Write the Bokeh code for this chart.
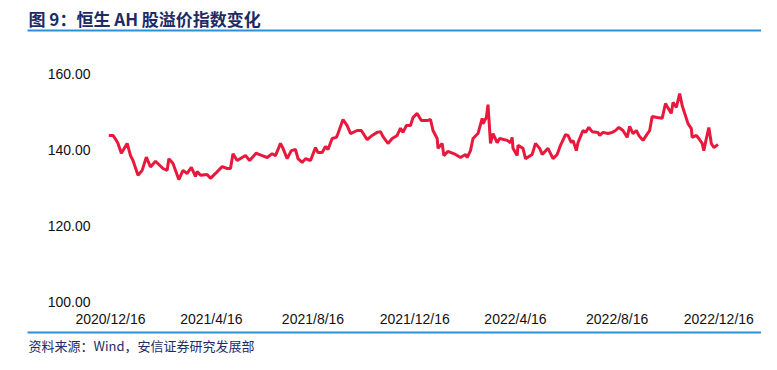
import pandas as pd
from bokeh.plotting import figure
from bokeh.models import Range1d, Label, BoxAnnotation, ColumnDataSource
from bokeh.core.properties import value
from bokeh.embed import file_html
from bokeh.resources import INLINE

# ---- data ----
dates = [
    "2020-12-14", "2020-12-19", "2020-12-23", "2020-12-25", "2020-12-29", "2021-01-05",
    "2021-01-09", "2021-01-12", "2021-01-18", "2021-01-23", "2021-01-28", "2021-02-02",
    "2021-02-08", "2021-02-17", "2021-02-22", "2021-02-24", "2021-03-01", "2021-03-08",
    "2021-03-13", "2021-03-18", "2021-03-23", "2021-03-28", "2021-03-30", "2021-04-03",
    "2021-04-11", "2021-04-15", "2021-04-21", "2021-04-29", "2021-05-05", "2021-05-09",
    "2021-05-12", "2021-05-17", "2021-05-27", "2021-06-01", "2021-06-09", "2021-06-12",
    "2021-06-16", "2021-06-22", "2021-06-28", "2021-07-02", "2021-07-08", "2021-07-11",
    "2021-07-16", "2021-07-21", "2021-07-26", "2021-07-29", "2021-08-03", "2021-08-07",
    "2021-08-13", "2021-08-19", "2021-08-22", "2021-08-27", "2021-08-31", "2021-09-03",
    "2021-09-08", "2021-09-13", "2021-09-15", "2021-09-21", "2021-09-26", "2021-09-30",
    "2021-10-08", "2021-10-13", "2021-10-20", "2021-10-26", "2021-11-01", "2021-11-05",
    "2021-11-08", "2021-11-14", "2021-11-19", "2021-11-25", "2021-11-29", "2021-12-02",
    "2021-12-06", "2021-12-11", "2021-12-14", "2021-12-19", "2021-12-24", "2021-12-31",
    "2022-01-04", "2022-01-07", "2022-01-12", "2022-01-13", "2022-01-18", "2022-01-20",
    "2022-01-25", "2022-02-03", "2022-02-09", "2022-02-15", "2022-02-17", "2022-02-21",
    "2022-02-24", "2022-03-02", "2022-03-07", "2022-03-08", "2022-03-12", "2022-03-14",
    "2022-03-17", "2022-03-20", "2022-03-25", "2022-03-28", "2022-04-06", "2022-04-10",
    "2022-04-12", "2022-04-13", "2022-04-18", "2022-04-19", "2022-04-25", "2022-04-28",
    "2022-05-06", "2022-05-10", "2022-05-15", "2022-05-18", "2022-05-25", "2022-05-31",
    "2022-06-05", "2022-06-09", "2022-06-15", "2022-06-18", "2022-06-22", "2022-06-24",
    "2022-06-28", "2022-06-30", "2022-07-06", "2022-07-09", "2022-07-13", "2022-07-17",
    "2022-07-24", "2022-07-26", "2022-07-30", "2022-08-05", "2022-08-10", "2022-08-14",
    "2022-08-18", "2022-08-23", "2022-08-28", "2022-08-31", "2022-09-04", "2022-09-08",
    "2022-09-11", "2022-09-16", "2022-09-20", "2022-09-24", "2022-09-27", "2022-10-03",
    "2022-10-09", "2022-10-13", "2022-10-15", "2022-10-20", "2022-10-22", "2022-10-26",
    "2022-10-30", "2022-11-02", "2022-11-07", "2022-11-09", "2022-11-13", "2022-11-14",
    "2022-11-19", "2022-11-22", "2022-11-26", "2022-11-28", "2022-12-01", "2022-12-04",
    "2022-12-07", "2022-12-10", "2022-12-15",
]
ah_premium = [
    143.7, 143.7, 142.4, 141.6, 139.0, 141.6,
    138.4, 137.1, 133.2, 134.5, 138.0, 135.4,
    136.9, 135.0, 134.5, 137.6, 136.3, 132.1,
    134.5, 133.7, 135.3, 132.9, 134.2, 133.2,
    133.4, 132.4, 133.7, 135.5, 135.0, 135.0,
    138.9, 137.1, 138.4, 137.1, 139.1, 138.7,
    138.4, 137.9, 138.9, 138.4, 141.6, 140.3,
    137.6, 139.7, 140.0, 137.6, 136.6, 137.6,
    137.1, 140.5, 139.2, 139.2, 140.8, 140.0,
    142.9, 143.2, 144.2, 147.9, 146.3, 144.2,
    145.0, 145.0, 142.6, 143.7, 144.5, 144.7,
    143.4, 141.6, 142.9, 143.7, 145.6, 144.5,
    146.3, 146.3, 148.4, 149.5, 147.6, 147.6,
    147.9, 145.0, 142.9, 140.3, 141.6, 138.4,
    139.5, 138.7, 137.9, 138.7, 137.9, 139.7,
    142.9, 144.2, 148.2, 146.8, 148.4, 151.8,
    141.6, 144.2, 141.8, 142.9, 142.4, 141.8,
    143.2, 140.3, 138.4, 141.1, 140.3, 137.6,
    138.7, 141.6, 140.3, 138.7, 140.3, 137.6,
    138.7, 141.1, 143.9, 143.7, 141.8, 142.4,
    139.7, 141.8, 145.0, 144.5, 145.8, 144.7,
    144.5, 143.7, 144.5, 144.2, 144.5, 145.0,
    145.8, 145.0, 143.2, 146.1, 144.2, 145.0,
    143.7, 142.4, 143.7, 145.0, 148.7, 148.4,
    148.2, 152.1, 151.3, 149.5, 152.4, 151.1,
    154.7, 151.6, 148.2, 146.8, 145.5, 143.2,
    143.7, 142.9, 141.6, 139.7, 142.9, 145.8,
    141.6, 140.5, 141.3,
]
x_tick_dates = ["2020-12-16", "2021-04-16", "2021-08-16", "2021-12-16",
                "2022-04-16", "2022-08-16", "2022-12-16"]
x_tick_labels = ["2020/12/16", "2021/4/16", "2021/8/16", "2021/12/16",
                 "2022/4/16", "2022/8/16", "2022/12/16"]
y_ticks = [100, 120, 140, 160]
y_tick_labels = ["100.00", "120.00", "140.00", "160.00"]

title_text = "图 9：恒生 AH 股溢价指数变化"
source_text = "资料来源：Wind，安信证券研究发展部"

# ---- layout calibration (canvas pixels) ----
W, H = 761, 354
PLOT_LEFT_PX = 110          # where the first x tick sits
DAYS_PER_PX = 1.2
Y_TOP_PX, Y_BOT_PX = 73, 301   # pixel rows of y = 160 and y = 100
Y_MIN, Y_MAX = 100, 160
PX_PER_UNIT = (Y_BOT_PX - Y_TOP_PX) / (Y_MAX - Y_MIN)

D0 = pd.Timestamp(x_tick_dates[0])
x_start = D0 - pd.Timedelta(days=PLOT_LEFT_PX * DAYS_PER_PX)
x_end = D0 + pd.Timedelta(days=(W - PLOT_LEFT_PX) * DAYS_PER_PX)
y_end = Y_MAX + Y_TOP_PX / PX_PER_UNIT
y_start = Y_MIN - (H - Y_BOT_PX) / PX_PER_UNIT

NAVY = "#1c2b66"
RULE = "#2a90d8"
LINE = "#e8193c"

p = figure(width=W, height=H, output_backend="svg", toolbar_location=None,
           x_axis_type="datetime", x_axis_location=None, y_axis_location=None,
           x_range=Range1d(x_start, x_end), y_range=Range1d(y_start, y_end),
           min_border=0, min_border_left=0, min_border_right=0,
           min_border_top=0, min_border_bottom=0)
p.outline_line_color = None
p.grid.visible = False
p.background_fill_color = "white"
p.border_fill_color = "white"

# series
src = ColumnDataSource(dict(date=pd.to_datetime(dates), v=ah_premium))
p.line("date", "v", source=src, line_color=LINE, line_width=3)

# x tick labels (below the y = 100 row)
xlab_y = Y_MIN - 17 / PX_PER_UNIT
xsrc = ColumnDataSource(dict(x=pd.to_datetime(x_tick_dates),
                             y=[xlab_y] * len(x_tick_dates), t=x_tick_labels))
p.text("x", "y", text="t", source=xsrc, text_font=value("Liberation Sans"),
       text_font_size=value("14px"), text_color="#111111",
       text_align="center", text_baseline="middle")

# y tick labels (right-aligned left of the plot)
ylab_x = D0 - pd.Timedelta(days=20 * DAYS_PER_PX)
ysrc = ColumnDataSource(dict(x=[ylab_x] * len(y_ticks), y=y_ticks, t=y_tick_labels))
p.text("x", "y", text="t", source=ysrc, text_font=value("Liberation Sans"),
       text_font_size=value("14px"), text_color="#111111",
       text_align="right", text_baseline="middle")

# header: title and blue rule (screen units from the bottom-left corner)
p.add_layout(Label(x=28, y=H - 18, x_units="screen", y_units="screen",
                   text=title_text, text_font="Noto Sans CJK SC", text_font_style="bold",
                   text_font_size="17px", text_color=NAVY, text_baseline="middle"))
p.add_layout(BoxAnnotation(left=27, right=W, top=H - 29, bottom=H - 31,
                           left_units="screen", right_units="screen",
                           top_units="screen", bottom_units="screen",
                           fill_color=RULE, fill_alpha=1, line_color=None))

# footer: blue rule and source text
p.add_layout(BoxAnnotation(left=27, right=W, top=H - 331, bottom=H - 333,
                           left_units="screen", right_units="screen",
                           top_units="screen", bottom_units="screen",
                           fill_color=RULE, fill_alpha=1, line_color=None))
p.add_layout(Label(x=28, y=H - 335, x_units="screen", y_units="screen",
                   text=source_text, text_font="Noto Sans CJK SC",
                   text_font_size="13px", text_color=NAVY, text_baseline="top"))

open("out.html", "w").write(file_html(p, INLINE))
